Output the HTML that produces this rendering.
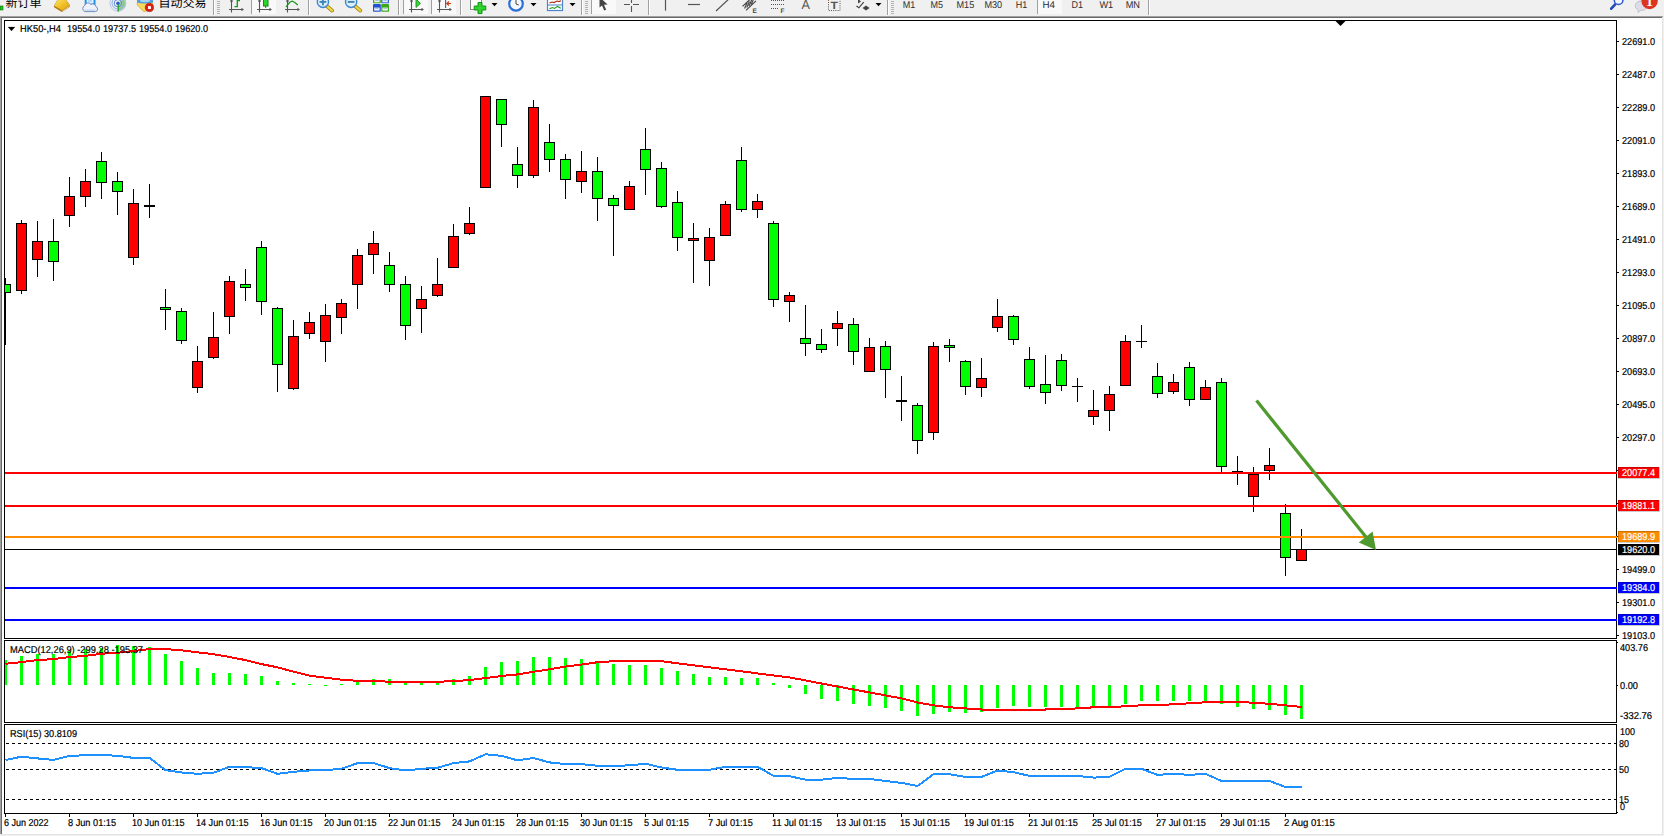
<!DOCTYPE html>
<html lang="zh"><head><meta charset="utf-8"><title>HK50-,H4</title>
<style>html,body{margin:0;padding:0;background:#f0f0f0;overflow:hidden}svg{display:block}text{font-family:"Liberation Sans","Noto Sans CJK SC",sans-serif;text-rendering:geometricPrecision}.ax{font-size:10px;fill:#000;stroke:#000;stroke-width:0.2px}.tf{font-size:9.9px;fill:#2e2e2e}.cj{font-size:12px;fill:#000}</style></head><body>
<svg width="1664" height="836" viewBox="0 0 1664 836">
<rect x="0" y="0" width="1664" height="836" fill="#f0f0f0"/>
<g shape-rendering="crispEdges">
<rect x="0" y="16" width="1663" height="820" fill="#a0a0a0"/>
<rect x="1" y="17" width="1662" height="818" fill="#696969"/>
<rect x="1662" y="16" width="2" height="820" fill="#f0f0f0"/>
<rect x="0" y="834" width="1664" height="2" fill="#f0f0f0"/>
<rect x="1" y="17" width="1662" height="818" fill="#e3e3e3"/>
<rect x="1" y="17" width="1661" height="817" fill="#696969"/>
<rect x="2" y="18" width="1660" height="816" fill="#ffffff"/>
<rect x="4.5" y="20.5" width="1612" height="618" fill="none" stroke="#000" stroke-width="1"/>
<rect x="4.5" y="640.5" width="1612" height="82" fill="none" stroke="#000" stroke-width="1"/>
<rect x="4.5" y="724.5" width="1612" height="89" fill="none" stroke="#000" stroke-width="1"/>
</g>
<defs><clipPath id="cm"><rect x="5" y="21" width="1611" height="617"/></clipPath><clipPath id="c2"><rect x="5" y="641" width="1611" height="81"/></clipPath><clipPath id="c3"><rect x="5" y="725" width="1611" height="88"/></clipPath></defs>
<g shape-rendering="crispEdges">
<rect x="5" y="549" width="1611" height="1" fill="#000"/>
</g>
<g shape-rendering="crispEdges" clip-path="url(#cm)" fill="#000">
<rect x="5" y="278" width="1" height="67"/><rect x="0" y="284" width="11" height="9"/><rect x="1" y="285" width="9" height="7" fill="#00ff00"/><rect x="21" y="220" width="1" height="74"/><rect x="16" y="223" width="11" height="68"/><rect x="17" y="224" width="9" height="66" fill="#ff0000"/><rect x="37" y="221" width="1" height="56"/><rect x="32" y="241" width="11" height="19"/><rect x="33" y="242" width="9" height="17" fill="#ff0000"/><rect x="53" y="219" width="1" height="62"/><rect x="48" y="241" width="11" height="21"/><rect x="49" y="242" width="9" height="19" fill="#00ff00"/><rect x="69" y="177" width="1" height="50"/><rect x="64" y="196" width="11" height="20"/><rect x="65" y="197" width="9" height="18" fill="#ff0000"/><rect x="85" y="169" width="1" height="38"/><rect x="80" y="181" width="11" height="16"/><rect x="81" y="182" width="9" height="14" fill="#ff0000"/><rect x="101" y="152" width="1" height="47"/><rect x="96" y="161" width="11" height="22"/><rect x="97" y="162" width="9" height="20" fill="#00ff00"/><rect x="117" y="172" width="1" height="43"/><rect x="112" y="181" width="11" height="11"/><rect x="113" y="182" width="9" height="9" fill="#00ff00"/><rect x="133" y="189" width="1" height="76"/><rect x="128" y="203" width="11" height="55"/><rect x="129" y="204" width="9" height="53" fill="#ff0000"/><rect x="149" y="184" width="1" height="34"/><rect x="144" y="205" width="11" height="2"/><rect x="165" y="289" width="1" height="41"/><rect x="160" y="307" width="11" height="3"/><rect x="161" y="308" width="9" height="1" fill="#00ff00"/><rect x="181" y="308" width="1" height="36"/><rect x="176" y="311" width="11" height="30"/><rect x="177" y="312" width="9" height="28" fill="#00ff00"/><rect x="197" y="346" width="1" height="47"/><rect x="192" y="361" width="11" height="27"/><rect x="193" y="362" width="9" height="25" fill="#ff0000"/><rect x="213" y="312" width="1" height="47"/><rect x="208" y="337" width="11" height="21"/><rect x="209" y="338" width="9" height="19" fill="#ff0000"/><rect x="229" y="276" width="1" height="58"/><rect x="224" y="281" width="11" height="36"/><rect x="225" y="282" width="9" height="34" fill="#ff0000"/><rect x="245" y="269" width="1" height="32"/><rect x="240" y="284" width="11" height="4"/><rect x="241" y="285" width="9" height="2" fill="#00ff00"/><rect x="261" y="241" width="1" height="74"/><rect x="256" y="247" width="11" height="55"/><rect x="257" y="248" width="9" height="53" fill="#00ff00"/><rect x="277" y="307" width="1" height="85"/><rect x="272" y="308" width="11" height="57"/><rect x="273" y="309" width="9" height="55" fill="#00ff00"/><rect x="293" y="320" width="1" height="70"/><rect x="288" y="336" width="11" height="53"/><rect x="289" y="337" width="9" height="51" fill="#ff0000"/><rect x="309" y="312" width="1" height="27"/><rect x="304" y="322" width="11" height="12"/><rect x="305" y="323" width="9" height="10" fill="#ff0000"/><rect x="325" y="304" width="1" height="58"/><rect x="320" y="315" width="11" height="27"/><rect x="321" y="316" width="9" height="25" fill="#ff0000"/><rect x="341" y="299" width="1" height="35"/><rect x="336" y="303" width="11" height="15"/><rect x="337" y="304" width="9" height="13" fill="#ff0000"/><rect x="357" y="249" width="1" height="60"/><rect x="352" y="255" width="11" height="30"/><rect x="353" y="256" width="9" height="28" fill="#ff0000"/><rect x="373" y="231" width="1" height="43"/><rect x="368" y="243" width="11" height="12"/><rect x="369" y="244" width="9" height="10" fill="#ff0000"/><rect x="389" y="252" width="1" height="40"/><rect x="384" y="265" width="11" height="20"/><rect x="385" y="266" width="9" height="18" fill="#00ff00"/><rect x="405" y="276" width="1" height="64"/><rect x="400" y="284" width="11" height="42"/><rect x="401" y="285" width="9" height="40" fill="#00ff00"/><rect x="421" y="286" width="1" height="47"/><rect x="416" y="299" width="11" height="10"/><rect x="417" y="300" width="9" height="8" fill="#ff0000"/><rect x="437" y="258" width="1" height="39"/><rect x="432" y="284" width="11" height="12"/><rect x="433" y="285" width="9" height="10" fill="#ff0000"/><rect x="453" y="224" width="1" height="44"/><rect x="448" y="236" width="11" height="32"/><rect x="449" y="237" width="9" height="30" fill="#ff0000"/><rect x="469" y="207" width="1" height="28"/><rect x="464" y="223" width="11" height="11"/><rect x="465" y="224" width="9" height="9" fill="#ff0000"/><rect x="485" y="96" width="1" height="92"/><rect x="480" y="96" width="11" height="92"/><rect x="481" y="97" width="9" height="90" fill="#ff0000"/><rect x="501" y="99" width="1" height="48"/><rect x="496" y="99" width="11" height="26"/><rect x="497" y="100" width="9" height="24" fill="#00ff00"/><rect x="517" y="147" width="1" height="41"/><rect x="512" y="164" width="11" height="12"/><rect x="513" y="165" width="9" height="10" fill="#00ff00"/><rect x="533" y="100" width="1" height="78"/><rect x="528" y="107" width="11" height="69"/><rect x="529" y="108" width="9" height="67" fill="#ff0000"/><rect x="549" y="124" width="1" height="48"/><rect x="544" y="142" width="11" height="18"/><rect x="545" y="143" width="9" height="16" fill="#00ff00"/><rect x="565" y="154" width="1" height="45"/><rect x="560" y="159" width="11" height="21"/><rect x="561" y="160" width="9" height="19" fill="#00ff00"/><rect x="581" y="151" width="1" height="42"/><rect x="576" y="171" width="11" height="11"/><rect x="577" y="172" width="9" height="9" fill="#ff0000"/><rect x="597" y="157" width="1" height="64"/><rect x="592" y="171" width="11" height="28"/><rect x="593" y="172" width="9" height="26" fill="#00ff00"/><rect x="613" y="195" width="1" height="61"/><rect x="608" y="198" width="11" height="8"/><rect x="609" y="199" width="9" height="6" fill="#00ff00"/><rect x="629" y="181" width="1" height="29"/><rect x="624" y="186" width="11" height="24"/><rect x="625" y="187" width="9" height="22" fill="#ff0000"/><rect x="645" y="128" width="1" height="67"/><rect x="640" y="149" width="11" height="21"/><rect x="641" y="150" width="9" height="19" fill="#00ff00"/><rect x="661" y="162" width="1" height="46"/><rect x="656" y="168" width="11" height="39"/><rect x="657" y="169" width="9" height="37" fill="#00ff00"/><rect x="677" y="191" width="1" height="60"/><rect x="672" y="202" width="11" height="36"/><rect x="673" y="203" width="9" height="34" fill="#00ff00"/><rect x="693" y="223" width="1" height="60"/><rect x="688" y="238" width="11" height="3"/><rect x="689" y="239" width="9" height="1" fill="#ff0000"/><rect x="709" y="228" width="1" height="58"/><rect x="704" y="237" width="11" height="24"/><rect x="705" y="238" width="9" height="22" fill="#ff0000"/><rect x="725" y="201" width="1" height="35"/><rect x="720" y="204" width="11" height="32"/><rect x="721" y="205" width="9" height="30" fill="#ff0000"/><rect x="741" y="147" width="1" height="65"/><rect x="736" y="160" width="11" height="50"/><rect x="737" y="161" width="9" height="48" fill="#00ff00"/><rect x="757" y="194" width="1" height="24"/><rect x="752" y="201" width="11" height="9"/><rect x="753" y="202" width="9" height="7" fill="#ff0000"/><rect x="773" y="221" width="1" height="86"/><rect x="768" y="223" width="11" height="77"/><rect x="769" y="224" width="9" height="75" fill="#00ff00"/><rect x="789" y="292" width="1" height="30"/><rect x="784" y="295" width="11" height="7"/><rect x="785" y="296" width="9" height="5" fill="#ff0000"/><rect x="805" y="305" width="1" height="51"/><rect x="800" y="338" width="11" height="6"/><rect x="801" y="339" width="9" height="4" fill="#00ff00"/><rect x="821" y="329" width="1" height="24"/><rect x="816" y="344" width="11" height="6"/><rect x="817" y="345" width="9" height="4" fill="#00ff00"/><rect x="837" y="311" width="1" height="35"/><rect x="832" y="323" width="11" height="6"/><rect x="833" y="324" width="9" height="4" fill="#ff0000"/><rect x="853" y="318" width="1" height="47"/><rect x="848" y="324" width="11" height="28"/><rect x="849" y="325" width="9" height="26" fill="#00ff00"/><rect x="869" y="338" width="1" height="34"/><rect x="864" y="347" width="11" height="25"/><rect x="865" y="348" width="9" height="23" fill="#ff0000"/><rect x="885" y="341" width="1" height="57"/><rect x="880" y="346" width="11" height="24"/><rect x="881" y="347" width="9" height="22" fill="#00ff00"/><rect x="901" y="376" width="1" height="45"/><rect x="896" y="400" width="11" height="2"/><rect x="917" y="403" width="1" height="51"/><rect x="912" y="405" width="11" height="36"/><rect x="913" y="406" width="9" height="34" fill="#00ff00"/><rect x="933" y="342" width="1" height="98"/><rect x="928" y="346" width="11" height="87"/><rect x="929" y="347" width="9" height="85" fill="#ff0000"/><rect x="949" y="339" width="1" height="23"/><rect x="944" y="345" width="11" height="3"/><rect x="945" y="346" width="9" height="1" fill="#00ff00"/><rect x="965" y="360" width="1" height="35"/><rect x="960" y="361" width="11" height="26"/><rect x="961" y="362" width="9" height="24" fill="#00ff00"/><rect x="981" y="358" width="1" height="39"/><rect x="976" y="378" width="11" height="10"/><rect x="977" y="379" width="9" height="8" fill="#ff0000"/><rect x="997" y="299" width="1" height="33"/><rect x="992" y="316" width="11" height="12"/><rect x="993" y="317" width="9" height="10" fill="#ff0000"/><rect x="1013" y="315" width="1" height="30"/><rect x="1008" y="316" width="11" height="24"/><rect x="1009" y="317" width="9" height="22" fill="#00ff00"/><rect x="1029" y="347" width="1" height="42"/><rect x="1024" y="359" width="11" height="28"/><rect x="1025" y="360" width="9" height="26" fill="#00ff00"/><rect x="1045" y="355" width="1" height="49"/><rect x="1040" y="384" width="11" height="9"/><rect x="1041" y="385" width="9" height="7" fill="#00ff00"/><rect x="1061" y="354" width="1" height="37"/><rect x="1056" y="360" width="11" height="26"/><rect x="1057" y="361" width="9" height="24" fill="#00ff00"/><rect x="1077" y="378" width="1" height="24"/><rect x="1072" y="386" width="11" height="1"/><rect x="1093" y="390" width="1" height="35"/><rect x="1088" y="410" width="11" height="7"/><rect x="1089" y="411" width="9" height="5" fill="#ff0000"/><rect x="1109" y="386" width="1" height="45"/><rect x="1104" y="394" width="11" height="17"/><rect x="1105" y="395" width="9" height="15" fill="#ff0000"/><rect x="1125" y="335" width="1" height="51"/><rect x="1120" y="341" width="11" height="45"/><rect x="1121" y="342" width="9" height="43" fill="#ff0000"/><rect x="1141" y="325" width="1" height="23"/><rect x="1136" y="341" width="11" height="1"/><rect x="1157" y="363" width="1" height="35"/><rect x="1152" y="376" width="11" height="18"/><rect x="1153" y="377" width="9" height="16" fill="#00ff00"/><rect x="1173" y="374" width="1" height="20"/><rect x="1168" y="382" width="11" height="10"/><rect x="1169" y="383" width="9" height="8" fill="#ff0000"/><rect x="1189" y="362" width="1" height="44"/><rect x="1184" y="367" width="11" height="33"/><rect x="1185" y="368" width="9" height="31" fill="#00ff00"/><rect x="1205" y="380" width="1" height="20"/><rect x="1200" y="387" width="11" height="13"/><rect x="1201" y="388" width="9" height="11" fill="#ff0000"/><rect x="1221" y="378" width="1" height="94"/><rect x="1216" y="382" width="11" height="85"/><rect x="1217" y="383" width="9" height="83" fill="#00ff00"/><rect x="1237" y="456" width="1" height="29"/><rect x="1232" y="471" width="11" height="1"/><rect x="1253" y="467" width="1" height="45"/><rect x="1248" y="474" width="11" height="23"/><rect x="1249" y="475" width="9" height="21" fill="#ff0000"/><rect x="1269" y="448" width="1" height="32"/><rect x="1264" y="465" width="11" height="6"/><rect x="1265" y="466" width="9" height="4" fill="#ff0000"/><rect x="1285" y="504" width="1" height="72"/><rect x="1280" y="513" width="11" height="45"/><rect x="1281" y="514" width="9" height="43" fill="#00ff00"/><rect x="1301" y="529" width="1" height="32"/><rect x="1296" y="549" width="11" height="12"/><rect x="1297" y="550" width="9" height="10" fill="#ff0000"/>
</g>
<g shape-rendering="crispEdges">
<rect x="5" y="472" width="1612" height="2" fill="#ff0000"/>
<rect x="5" y="505" width="1612" height="2" fill="#ff0000"/>
<rect x="5" y="536" width="1612" height="2" fill="#ff8c00"/>
<rect x="5" y="587" width="1612" height="2" fill="#0000ff"/>
<rect x="5" y="619" width="1612" height="2" fill="#0000ff"/>
</g>
<polygon points="1335.5,21 1345.5,21 1340.5,26" fill="#000"/>
<g><line x1="1256.5" y1="400.5" x2="1366" y2="537" stroke="#4e9a2e" stroke-width="3.2"/><polygon points="1376,550 1372.6,531.4 1358.8,542.5" fill="#4e9a2e"/></g>
<g shape-rendering="crispEdges" clip-path="url(#c2)" fill="#00ff00">
<rect x="4" y="660" width="3" height="25"/><rect x="20" y="656" width="3" height="29"/><rect x="36" y="654" width="3" height="31"/><rect x="52" y="654" width="3" height="31"/><rect x="68" y="651" width="3" height="34"/><rect x="84" y="649" width="3" height="36"/><rect x="100" y="648" width="3" height="37"/><rect x="116" y="645" width="3" height="40"/><rect x="132" y="646" width="3" height="39"/><rect x="148" y="647" width="3" height="38"/><rect x="164" y="654" width="3" height="31"/><rect x="180" y="661" width="3" height="24"/><rect x="196" y="668" width="3" height="17"/><rect x="212" y="673" width="3" height="12"/><rect x="228" y="673" width="3" height="12"/><rect x="244" y="674" width="3" height="11"/><rect x="260" y="676" width="3" height="9"/><rect x="276" y="681" width="3" height="4"/><rect x="292" y="683" width="3" height="2"/><rect x="308" y="684" width="3" height="1"/><rect x="324" y="685" width="3" height="1"/><rect x="340" y="684" width="3" height="1"/><rect x="356" y="681" width="3" height="4"/><rect x="372" y="679" width="3" height="6"/><rect x="388" y="679" width="3" height="6"/><rect x="404" y="682" width="3" height="3"/><rect x="420" y="682" width="3" height="3"/><rect x="436" y="682" width="3" height="3"/><rect x="452" y="679" width="3" height="6"/><rect x="468" y="676" width="3" height="9"/><rect x="484" y="667" width="3" height="18"/><rect x="500" y="662" width="3" height="23"/><rect x="516" y="661" width="3" height="24"/><rect x="532" y="657" width="3" height="28"/><rect x="548" y="657" width="3" height="28"/><rect x="564" y="658" width="3" height="27"/><rect x="580" y="659" width="3" height="26"/><rect x="596" y="661" width="3" height="24"/><rect x="612" y="664" width="3" height="21"/><rect x="628" y="665" width="3" height="20"/><rect x="644" y="665" width="3" height="20"/><rect x="660" y="668" width="3" height="17"/><rect x="676" y="671" width="3" height="14"/><rect x="692" y="674" width="3" height="11"/><rect x="708" y="677" width="3" height="8"/><rect x="724" y="677" width="3" height="8"/><rect x="740" y="678" width="3" height="7"/><rect x="756" y="678" width="3" height="7"/><rect x="772" y="683" width="3" height="2"/><rect x="788" y="685" width="3" height="3"/><rect x="804" y="685" width="3" height="9"/><rect x="820" y="685" width="3" height="14"/><rect x="836" y="685" width="3" height="16"/><rect x="852" y="685" width="3" height="19"/><rect x="868" y="685" width="3" height="21"/><rect x="884" y="685" width="3" height="23"/><rect x="900" y="685" width="3" height="26"/><rect x="916" y="685" width="3" height="31"/><rect x="932" y="685" width="3" height="29"/><rect x="948" y="685" width="3" height="27"/><rect x="964" y="685" width="3" height="28"/><rect x="980" y="685" width="3" height="27"/><rect x="996" y="685" width="3" height="23"/><rect x="1012" y="685" width="3" height="21"/><rect x="1028" y="685" width="3" height="22"/><rect x="1044" y="685" width="3" height="22"/><rect x="1060" y="685" width="3" height="22"/><rect x="1076" y="685" width="3" height="22"/><rect x="1092" y="685" width="3" height="22"/><rect x="1108" y="685" width="3" height="21"/><rect x="1124" y="685" width="3" height="19"/><rect x="1140" y="685" width="3" height="16"/><rect x="1156" y="685" width="3" height="16"/><rect x="1172" y="685" width="3" height="16"/><rect x="1188" y="685" width="3" height="16"/><rect x="1204" y="685" width="3" height="16"/><rect x="1220" y="685" width="3" height="19"/><rect x="1236" y="685" width="3" height="22"/><rect x="1252" y="685" width="3" height="24"/><rect x="1268" y="685" width="3" height="25"/><rect x="1284" y="685" width="3" height="30"/><rect x="1300" y="685" width="3" height="34"/>
<polyline points="5.5,663.8 21.5,662.1 37.5,660.1 53.5,659.1 69.5,657.0 85.5,655.9 101.5,653.7 117.5,652.8 133.5,651.1 149.5,649.1 165.5,649.1 181.5,650.3 197.5,652.3 213.5,654.2 229.5,657.0 245.5,660.1 261.5,664.1 277.5,667.3 293.5,671.7 309.5,675.7 325.5,677.7 341.5,679.7 357.5,680.8 373.5,680.8 389.5,681.8 405.5,681.8 421.5,681.8 437.5,681.8 453.5,681.1 469.5,680.1 485.5,678.1 501.5,676.0 517.5,674.4 533.5,671.8 549.5,669.3 565.5,666.6 581.5,664.6 597.5,662.2 613.5,661.2 629.5,661.2 645.5,661.2 661.5,661.2 677.5,663.3 693.5,665.3 709.5,667.3 725.5,669.3 741.5,671.3 757.5,673.4 773.5,675.4 789.5,677.4 805.5,680.4 821.5,683.5 837.5,686.5 853.5,689.5 869.5,692.4 885.5,695.4 901.5,698.4 917.5,702.5 933.5,705.3 949.5,707.3 965.5,708.4 981.5,709.5 997.5,709.5 1013.5,709.5 1029.5,709.5 1045.5,709.5 1061.5,709.0 1077.5,708.4 1093.5,707.3 1109.5,707.0 1125.5,706.3 1141.5,705.3 1157.5,705.0 1173.5,704.3 1189.5,703.3 1205.5,702.3 1221.5,701.8 1237.5,701.8 1253.5,702.8 1269.5,703.8 1285.5,705.3 1301.5,707.0 1302,707" fill="none" stroke="#ff0000" stroke-width="2"/>
</g>
<g shape-rendering="crispEdges" clip-path="url(#c3)">
<line x1="5" y1="743.5" x2="1616" y2="743.5" stroke="#000" stroke-width="1" stroke-dasharray="3 3" stroke-dashoffset="5"/>
<line x1="5" y1="769.5" x2="1616" y2="769.5" stroke="#000" stroke-width="1" stroke-dasharray="3 3" stroke-dashoffset="5"/>
<line x1="5" y1="799.5" x2="1616" y2="799.5" stroke="#000" stroke-width="1" stroke-dasharray="3 3" stroke-dashoffset="5"/>
<polyline points="5.5,760.0 21.5,756.7 37.5,758.4 53.5,760.0 69.5,755.8 85.5,755.3 101.5,755.0 117.5,755.8 133.5,757.9 149.5,757.9 165.5,770.1 181.5,772.5 197.5,773.8 213.5,772.8 229.5,766.8 245.5,767.1 261.5,768.1 277.5,773.8 293.5,771.8 309.5,770.5 325.5,770.1 341.5,768.8 357.5,763.1 373.5,763.1 389.5,768.1 405.5,770.5 421.5,768.8 437.5,767.8 453.5,763.1 469.5,761.4 485.5,754.3 501.5,755.8 517.5,760.4 533.5,758.0 549.5,762.4 565.5,764.1 581.5,764.1 597.5,765.8 613.5,765.8 629.5,765.4 645.5,763.7 661.5,767.5 677.5,769.8 693.5,769.8 709.5,769.8 725.5,766.8 741.5,766.8 757.5,766.8 773.5,775.9 789.5,776.2 805.5,779.7 821.5,779.7 837.5,777.9 853.5,778.9 869.5,778.9 885.5,780.9 901.5,782.9 917.5,786.0 933.5,774.2 949.5,774.2 965.5,776.9 981.5,776.9 997.5,770.5 1013.5,772.2 1029.5,775.9 1045.5,775.9 1061.5,775.9 1077.5,775.9 1093.5,777.6 1109.5,776.9 1125.5,768.8 1141.5,768.8 1157.5,774.9 1173.5,773.8 1189.5,774.9 1205.5,773.8 1221.5,781.0 1237.5,781.0 1253.5,781.0 1269.5,781.0 1285.5,787.0 1301.5,787.0 1302,787" fill="none" stroke="#1e90ff" stroke-width="2"/>
</g>
<g shape-rendering="crispEdges" fill="#000">
<rect x="1617" y="41" width="2" height="1"/>
<rect x="1617" y="74" width="2" height="1"/>
<rect x="1617" y="107" width="2" height="1"/>
<rect x="1617" y="140" width="2" height="1"/>
<rect x="1617" y="173" width="2" height="1"/>
<rect x="1617" y="206" width="2" height="1"/>
<rect x="1617" y="239" width="2" height="1"/>
<rect x="1617" y="272" width="2" height="1"/>
<rect x="1617" y="305" width="2" height="1"/>
<rect x="1617" y="338" width="2" height="1"/>
<rect x="1617" y="371" width="2" height="1"/>
<rect x="1617" y="404" width="2" height="1"/>
<rect x="1617" y="437" width="2" height="1"/>
<rect x="1617" y="470" width="2" height="1"/>
<rect x="1617" y="503" width="2" height="1"/>
<rect x="1617" y="536" width="2" height="1"/>
<rect x="1617" y="569" width="2" height="1"/>
<rect x="1617" y="602" width="2" height="1"/>
<rect x="1617" y="635" width="2" height="1"/>
<rect x="1617" y="642" width="1" height="1"/>
<rect x="1617" y="685" width="1" height="1"/>
<rect x="1617" y="812" width="1" height="1"/>
<rect x="5" y="814" width="1" height="3"/>
<rect x="69" y="814" width="1" height="3"/>
<rect x="133" y="814" width="1" height="3"/>
<rect x="197" y="814" width="1" height="3"/>
<rect x="261" y="814" width="1" height="3"/>
<rect x="325" y="814" width="1" height="3"/>
<rect x="389" y="814" width="1" height="3"/>
<rect x="453" y="814" width="1" height="3"/>
<rect x="517" y="814" width="1" height="3"/>
<rect x="581" y="814" width="1" height="3"/>
<rect x="645" y="814" width="1" height="3"/>
<rect x="709" y="814" width="1" height="3"/>
<rect x="773" y="814" width="1" height="3"/>
<rect x="837" y="814" width="1" height="3"/>
<rect x="901" y="814" width="1" height="3"/>
<rect x="965" y="814" width="1" height="3"/>
<rect x="1029" y="814" width="1" height="3"/>
<rect x="1093" y="814" width="1" height="3"/>
<rect x="1157" y="814" width="1" height="3"/>
<rect x="1221" y="814" width="1" height="3"/>
<rect x="1285" y="814" width="1" height="3"/>
</g>
<g class="ax">
<text x="1622" y="45" textLength="33" lengthAdjust="spacingAndGlyphs">22691.0</text>
<text x="1622" y="78" textLength="33" lengthAdjust="spacingAndGlyphs">22487.0</text>
<text x="1622" y="111" textLength="33" lengthAdjust="spacingAndGlyphs">22289.0</text>
<text x="1622" y="144" textLength="33" lengthAdjust="spacingAndGlyphs">22091.0</text>
<text x="1622" y="177" textLength="33" lengthAdjust="spacingAndGlyphs">21893.0</text>
<text x="1622" y="210" textLength="33" lengthAdjust="spacingAndGlyphs">21689.0</text>
<text x="1622" y="243" textLength="33" lengthAdjust="spacingAndGlyphs">21491.0</text>
<text x="1622" y="276" textLength="33" lengthAdjust="spacingAndGlyphs">21293.0</text>
<text x="1622" y="309" textLength="33" lengthAdjust="spacingAndGlyphs">21095.0</text>
<text x="1622" y="342" textLength="33" lengthAdjust="spacingAndGlyphs">20897.0</text>
<text x="1622" y="375" textLength="33" lengthAdjust="spacingAndGlyphs">20693.0</text>
<text x="1622" y="408" textLength="33" lengthAdjust="spacingAndGlyphs">20495.0</text>
<text x="1622" y="441" textLength="33" lengthAdjust="spacingAndGlyphs">20297.0</text>
<text x="1622" y="573" textLength="33" lengthAdjust="spacingAndGlyphs">19499.0</text>
<text x="1622" y="606" textLength="33" lengthAdjust="spacingAndGlyphs">19301.0</text>
<text x="1622" y="639" textLength="33" lengthAdjust="spacingAndGlyphs">19103.0</text>
<rect x="1618" y="467" width="41" height="11" fill="#ff0000" shape-rendering="crispEdges"/>
<text x="1622" y="476" style="fill:#fff;stroke:#fff" textLength="33" lengthAdjust="spacingAndGlyphs">20077.4</text>
<rect x="1618" y="500" width="41" height="11" fill="#ff0000" shape-rendering="crispEdges"/>
<text x="1622" y="509" style="fill:#fff;stroke:#fff" textLength="33" lengthAdjust="spacingAndGlyphs">19881.1</text>
<rect x="1618" y="531" width="41" height="11" fill="#ff8c00" shape-rendering="crispEdges"/>
<text x="1622" y="540" style="fill:#fff;stroke:#fff" textLength="33" lengthAdjust="spacingAndGlyphs">19689.9</text>
<rect x="1618" y="544" width="41" height="11" fill="#000000" shape-rendering="crispEdges"/>
<text x="1622" y="553" style="fill:#fff;stroke:#fff" textLength="33" lengthAdjust="spacingAndGlyphs">19620.0</text>
<rect x="1618" y="582" width="41" height="11" fill="#0000ff" shape-rendering="crispEdges"/>
<text x="1622" y="591" style="fill:#fff;stroke:#fff" textLength="33" lengthAdjust="spacingAndGlyphs">19384.0</text>
<rect x="1618" y="614" width="41" height="11" fill="#0000ff" shape-rendering="crispEdges"/>
<text x="1622" y="623" style="fill:#fff;stroke:#fff" textLength="33" lengthAdjust="spacingAndGlyphs">19192.8</text>
<text x="1620" y="651" textLength="28" lengthAdjust="spacingAndGlyphs">403.76</text>
<text x="1620" y="689" textLength="18" lengthAdjust="spacingAndGlyphs">0.00</text>
<text x="1620" y="719" textLength="32" lengthAdjust="spacingAndGlyphs">-332.76</text>
<text x="1620" y="735" textLength="15" lengthAdjust="spacingAndGlyphs">100</text>
<text x="1619" y="747" textLength="10" lengthAdjust="spacingAndGlyphs">80</text>
<text x="1619" y="773" textLength="10" lengthAdjust="spacingAndGlyphs">50</text>
<text x="1619" y="803" textLength="10" lengthAdjust="spacingAndGlyphs">15</text>
<text x="1620" y="810" textLength="5" lengthAdjust="spacingAndGlyphs">0</text>
<text x="4" y="826" textLength="44.6" lengthAdjust="spacingAndGlyphs">6 Jun 2022</text>
<text x="68" y="826" textLength="48" lengthAdjust="spacingAndGlyphs">8 Jun 01:15</text>
<text x="132" y="826" textLength="52.5" lengthAdjust="spacingAndGlyphs">10 Jun 01:15</text>
<text x="196" y="826" textLength="52.5" lengthAdjust="spacingAndGlyphs">14 Jun 01:15</text>
<text x="260" y="826" textLength="52.5" lengthAdjust="spacingAndGlyphs">16 Jun 01:15</text>
<text x="324" y="826" textLength="52.5" lengthAdjust="spacingAndGlyphs">20 Jun 01:15</text>
<text x="388" y="826" textLength="52.5" lengthAdjust="spacingAndGlyphs">22 Jun 01:15</text>
<text x="452" y="826" textLength="52.5" lengthAdjust="spacingAndGlyphs">24 Jun 01:15</text>
<text x="516" y="826" textLength="52.5" lengthAdjust="spacingAndGlyphs">28 Jun 01:15</text>
<text x="580" y="826" textLength="52.5" lengthAdjust="spacingAndGlyphs">30 Jun 01:15</text>
<text x="644" y="826" textLength="44.8" lengthAdjust="spacingAndGlyphs">5 Jul 01:15</text>
<text x="708" y="826" textLength="44.8" lengthAdjust="spacingAndGlyphs">7 Jul 01:15</text>
<text x="772" y="826" textLength="49.9" lengthAdjust="spacingAndGlyphs">11 Jul 01:15</text>
<text x="836" y="826" textLength="49.9" lengthAdjust="spacingAndGlyphs">13 Jul 01:15</text>
<text x="900" y="826" textLength="49.9" lengthAdjust="spacingAndGlyphs">15 Jul 01:15</text>
<text x="964" y="826" textLength="49.9" lengthAdjust="spacingAndGlyphs">19 Jul 01:15</text>
<text x="1028" y="826" textLength="49.9" lengthAdjust="spacingAndGlyphs">21 Jul 01:15</text>
<text x="1092" y="826" textLength="49.9" lengthAdjust="spacingAndGlyphs">25 Jul 01:15</text>
<text x="1156" y="826" textLength="49.9" lengthAdjust="spacingAndGlyphs">27 Jul 01:15</text>
<text x="1220" y="826" textLength="49.9" lengthAdjust="spacingAndGlyphs">29 Jul 01:15</text>
<text x="1284" y="826" textLength="50.8" lengthAdjust="spacingAndGlyphs">2 Aug 01:15</text>
<polygon points="8,27 15,27 11.5,31" fill="#000"/>
<text y="32"><tspan x="20" textLength="41" lengthAdjust="spacingAndGlyphs">HK50-,H4</tspan> <tspan x="67" textLength="33" lengthAdjust="spacingAndGlyphs">19554.0</tspan> <tspan x="103" textLength="33" lengthAdjust="spacingAndGlyphs">19737.5</tspan> <tspan x="139" textLength="33" lengthAdjust="spacingAndGlyphs">19554.0</tspan> <tspan x="175" textLength="33" lengthAdjust="spacingAndGlyphs">19620.0</tspan></text>
<text x="10" y="653" textLength="133" lengthAdjust="spacingAndGlyphs">MACD(12,26,9) -299.28 -195.37</text>
<text x="10" y="737" textLength="67" lengthAdjust="spacingAndGlyphs">RSI(15) 30.8109</text>
</g>
<g id="toolbar">
<g shape-rendering="crispEdges">
<rect x="252" y="0" width="24" height="14" fill="#f9f9f9"/>
<rect x="251" y="0" width="1" height="14" fill="#a0a0a0"/>
<rect x="404" y="0" width="24" height="14" fill="#f9f9f9"/>
<rect x="403" y="0" width="1" height="14" fill="#a0a0a0"/>
<rect x="432" y="0" width="24" height="14" fill="#f9f9f9"/>
<rect x="431" y="0" width="1" height="14" fill="#a0a0a0"/>
<rect x="592" y="0" width="24" height="14" fill="#f9f9f9"/>
<rect x="591" y="0" width="1" height="14" fill="#a0a0a0"/>
<rect x="1038" y="0" width="24" height="14" fill="#f9f9f9"/>
<rect x="1037" y="0" width="1" height="14" fill="#a0a0a0"/>
<rect x="213" y="0" width="1" height="15" fill="#a0a0a0"/><rect x="214" y="0" width="1" height="15" fill="#ffffff"/>
<rect x="308" y="0" width="1" height="15" fill="#a0a0a0"/><rect x="309" y="0" width="1" height="15" fill="#ffffff"/>
<rect x="398" y="0" width="1" height="15" fill="#a0a0a0"/><rect x="399" y="0" width="1" height="15" fill="#ffffff"/>
<rect x="460" y="0" width="1" height="15" fill="#a0a0a0"/><rect x="461" y="0" width="1" height="15" fill="#ffffff"/>
<rect x="581" y="0" width="1" height="15" fill="#a0a0a0"/><rect x="582" y="0" width="1" height="15" fill="#ffffff"/>
<rect x="648" y="0" width="1" height="15" fill="#a0a0a0"/><rect x="649" y="0" width="1" height="15" fill="#ffffff"/>
<rect x="887" y="0" width="1" height="15" fill="#a0a0a0"/><rect x="888" y="0" width="1" height="15" fill="#ffffff"/>
<rect x="1148" y="0" width="1" height="15" fill="#a0a0a0"/><rect x="1149" y="0" width="1" height="15" fill="#ffffff"/>
<rect x="591" y="0" width="1" height="14" fill="#a0a0a0"/>
<rect x="217" y="1" width="3" height="1" fill="#b4b4b4"/>
<rect x="217" y="3" width="3" height="1" fill="#b4b4b4"/>
<rect x="217" y="5" width="3" height="1" fill="#b4b4b4"/>
<rect x="217" y="7" width="3" height="1" fill="#b4b4b4"/>
<rect x="217" y="9" width="3" height="1" fill="#b4b4b4"/>
<rect x="217" y="11" width="3" height="1" fill="#b4b4b4"/>
<rect x="217" y="13" width="3" height="1" fill="#b4b4b4"/>
<rect x="585" y="1" width="3" height="1" fill="#b4b4b4"/>
<rect x="585" y="3" width="3" height="1" fill="#b4b4b4"/>
<rect x="585" y="5" width="3" height="1" fill="#b4b4b4"/>
<rect x="585" y="7" width="3" height="1" fill="#b4b4b4"/>
<rect x="585" y="9" width="3" height="1" fill="#b4b4b4"/>
<rect x="585" y="11" width="3" height="1" fill="#b4b4b4"/>
<rect x="585" y="13" width="3" height="1" fill="#b4b4b4"/>
<rect x="891" y="1" width="3" height="1" fill="#b4b4b4"/>
<rect x="891" y="3" width="3" height="1" fill="#b4b4b4"/>
<rect x="891" y="5" width="3" height="1" fill="#b4b4b4"/>
<rect x="891" y="7" width="3" height="1" fill="#b4b4b4"/>
<rect x="891" y="9" width="3" height="1" fill="#b4b4b4"/>
<rect x="891" y="11" width="3" height="1" fill="#b4b4b4"/>
<rect x="891" y="13" width="3" height="1" fill="#b4b4b4"/>
</g>
<rect x="0" y="6" width="3" height="4" fill="#22c022" stroke="#0a7a0a" stroke-width="0.6"/>
<text class="cj" x="5.5" y="7.4">新订单</text>
<defs><linearGradient id="gd" x1="0" y1="0" x2="1" y2="1"><stop offset="0" stop-color="#ffe566"/><stop offset="0.6" stop-color="#eebb22"/><stop offset="1" stop-color="#d9a318"/></linearGradient></defs>
<polygon points="54,5.8 58,-1 65.4,-1 70,5.3 70,6.8 61.8,12 54,7.2" fill="#b07a14"/>
<polygon points="54.3,5.7 58.2,-1 65.2,-1 69.6,5.2 62,10.2" fill="url(#gd)"/>
<path d="M62.2,10.9 L69.8,6" stroke="#f3dc8c" stroke-width="0.8"/>
<rect x="85.7" y="-3" width="8.8" height="7.6" fill="#eaf4ff" stroke="#1f8fee" stroke-width="2"/>
<path d="M88,1 H92" stroke="#7fbcf5" stroke-width="1"/>
<path d="M85,11.6 a3.2,3.2 0 0 1 -0.3,-6 a3.4,3.4 0 0 1 6.2,-1.2 a3.3,3.3 0 0 1 5,2.2 a2.6,2.6 0 0 1 -0.4,5 Z" fill="#edf2fa" stroke="#6f8fc2" stroke-width="1"/>
<path d="M84.6,10.2 H95.6" stroke="#c9d6ea" stroke-width="1.4"/>
<path d="M118,3.2 L118,11.4 A8.2,8.2 0 0 0 126.2,3.2 A8.2,8.2 0 0 0 124,-2 Z" fill="#7cc47c" opacity="0.75"/>
<circle cx="117.9" cy="3.2" r="3.7" fill="none" stroke="#5b86d6" stroke-width="1"/>
<circle cx="117.9" cy="3.2" r="5.9" fill="none" stroke="#8aa8e2" stroke-width="1"/>
<circle cx="117.9" cy="3.2" r="8" fill="none" stroke="#b4c6ec" stroke-width="1"/>
<path d="M118.2,3.4 V11.6" stroke="#27a327" stroke-width="1.3"/>
<circle cx="117.9" cy="3.2" r="1.7" fill="#2a5fd0"/>
<path d="M137.2,2.6 L152.8,2.6 L152.8,5 L145.4,11.6 L143.6,11.6 L137.2,5 Z" fill="#f4d95e" stroke="#cfa92e" stroke-width="0.7"/>
<path d="M137,-2 H153 V2.6 Q145,4.4 137,2.6 Z" fill="#4e9fdc"/>
<ellipse cx="145" cy="0.6" rx="5" ry="1.6" fill="#a9d4f2"/>
<circle cx="149.4" cy="7.5" r="4.1" fill="#dd2211" stroke="#a81408" stroke-width="0.7"/>
<rect x="148" y="6.1" width="2.9" height="2.9" fill="#fff"/>
<text class="cj" x="158.5" y="7.4">自动交易</text>
<path d="M231.5,0 V12.5 M229,9.5 H243 M241.5,8.4 L243,9.5 L241.5,10.6 M230.3,1.5 L231.5,0 L232.7,1.5" fill="none" stroke="#555" stroke-width="1.1"/>
<path d="M234.5,6.7 H237.3 V0.5 H240" fill="none" stroke="#169316" stroke-width="1.3"/>
<path d="M259.5,0 V12.5 M257,9.5 H271 M269.5,8.4 L271,9.5 L269.5,10.6 M258.3,1.5 L259.5,0 L260.7,1.5" fill="none" stroke="#555" stroke-width="1.1"/>
<rect x="263.5" y="-2" width="4.5" height="8" fill="#2bd42b" stroke="#128a12" stroke-width="1"/><path d="M265.7,6 V8" stroke="#128a12" stroke-width="1"/>
<path d="M287.5,0 V12.5 M285,9.5 H299 M297.5,8.4 L299,9.5 L297.5,10.6 M286.3,1.5 L287.5,0 L288.7,1.5" fill="none" stroke="#555" stroke-width="1.1"/>
<path d="M286,7 Q290.5,0.5 292.5,1.2 T297.8,5" fill="none" stroke="#169316" stroke-width="1.2"/>
<path d="M326.7,5.8 L332.09999999999997,10.6" stroke="#a07c12" stroke-width="3.8" stroke-linecap="round"/>
<path d="M326.7,5.8 L332.09999999999997,10.6" stroke="#f0d640" stroke-width="2.2" stroke-linecap="round"/>
<circle cx="322.9" cy="1.9" r="5.6" fill="#dbeefc" stroke="#3f86d2" stroke-width="1.4"/>
<path d="M319.5,1.9 H326.29999999999995" stroke="#3d86b4" stroke-width="1.9"/>
<path d="M322.9,-2 V5.3" stroke="#3d86b4" stroke-width="1.9"/>
<path d="M354.90000000000003,5.8 L360.3,10.6" stroke="#a07c12" stroke-width="3.8" stroke-linecap="round"/>
<path d="M354.90000000000003,5.8 L360.3,10.6" stroke="#f0d640" stroke-width="2.2" stroke-linecap="round"/>
<circle cx="351.1" cy="1.9" r="5.6" fill="#dbeefc" stroke="#3f86d2" stroke-width="1.4"/>
<path d="M347.70000000000005,1.9 H354.5" stroke="#3d86b4" stroke-width="1.9"/>
<rect x="373" y="-3" width="7.8" height="6.3" rx="0.8" fill="#3aa818"/><rect x="381.2" y="-3" width="7.8" height="6.3" rx="0.8" fill="#2f5fd6"/>
<rect x="373" y="4.1" width="7.8" height="7.6" rx="0.8" fill="#2352d0"/><rect x="381.2" y="4.1" width="7.8" height="7.6" rx="0.8" fill="#3aa818"/>
<rect x="374.2" y="-3" width="5.4" height="5.3" fill="#f2f8ee"/><rect x="382.4" y="-3" width="5.4" height="5.3" fill="#eef2fc"/>
<rect x="374.2" y="7.6" width="5.4" height="3" fill="#f2f5fd"/><rect x="382.4" y="7.6" width="5.4" height="3" fill="#f0f8ec"/>
<path d="M375.2,0.6 H378.6 M383.4,0.6 H386.8 M375.2,8.6 H378.6 M383.4,8.6 H386.8" stroke="#9ab6e8" stroke-width="0.9"/>
<path d="M411.5,0 V12.5 M409,9.5 H423 M421.5,8.4 L423,9.5 L421.5,10.6 M410.3,1.5 L411.5,0 L412.7,1.5" fill="none" stroke="#555" stroke-width="1.1"/>
<path d="M416,-1 L420.4,3.4 L416,7.4 Z" fill="#3bd43b" stroke="#169316" stroke-width="0.9"/>
<path d="M439.5,0 V12.5 M437,9.5 H451 M449.5,8.4 L451,9.5 L449.5,10.6 M438.3,1.5 L439.5,0 L440.7,1.5" fill="none" stroke="#555" stroke-width="1.1"/>
<path d="M445.6,0 V8" stroke="#2f6fb4" stroke-width="1.2"/><path d="M446.5,3.5 H451 M449,1.5 L446.8,3.5 L449,5.5" fill="none" stroke="#d03a10" stroke-width="1.2"/>
<rect x="470.5" y="-3" width="11" height="12.5" fill="#fdfdfd" stroke="#8a8a8a" stroke-width="1"/>
<path d="M478,2.5 h4 v3.5 h3.8 v4 h-3.8 v3.6 h-4 v-3.6 h-3.8 v-4 h3.8 z" fill="#2fd22f" stroke="#0c8a0c" stroke-width="0.9"/>
<polygon points="491.5,3 497.5,3 494.5,6.2" fill="#000"/>
<polygon points="530.5,3 536.5,3 533.5,6.2" fill="#000"/>
<polygon points="569.5,3 575.5,3 572.5,6.2" fill="#000"/>
<polygon points="875.5,3 881.5,3 878.5,6.2" fill="#000"/>
<circle cx="516" cy="3.8" r="6.8" fill="#f4f8fd" stroke="#2c6fd6" stroke-width="2.2"/>
<path d="M516,-0.5 V4 L518.8,5" fill="none" stroke="#444" stroke-width="1"/>
<rect x="547.5" y="-3" width="15" height="13.5" fill="#fff" stroke="#4b83cc" stroke-width="1.2"/>
<path d="M547.5,5 H562.5" stroke="#4b83cc" stroke-width="1"/>
<path d="M549.5,3 L552,2 L554,2.6 L557,1 L559,1.6 L561,0.8" fill="none" stroke="#b02a10" stroke-width="1.1"/>
<path d="M549.5,8.8 L552.5,7.6 L554.5,8.4 L557.5,6.4 L560.8,8.2" fill="none" stroke="#1c9a1c" stroke-width="1.1"/>
<path d="M599.5,-3 L599.5,7.6 L602,5.4 L604.2,10.6 L606.2,9.8 L604,4.8 L607.6,4.6 Z" fill="#444"/>
<path d="M624,4.5 H630 M633,4.5 H639 M631.5,0 V3 M631.5,6 V12" stroke="#555" stroke-width="1.1"/>
<path d="M665.5,0 V10.6" stroke="#555" stroke-width="1.2"/><path d="M688,4.5 H700" stroke="#555" stroke-width="1.2"/><path d="M716,11 L728,-0.2" stroke="#555" stroke-width="1.2"/>
<path d="M742.5,6.4 L751.5,-2 M746,10.4 L756,0.8 M744.6,8.6 l2.6,-6 M746.8,7.6 l2.6,-6 M749,6 l2.6,-6 M751.2,4.6 l2.6,-6" stroke="#444" stroke-width="1.15" fill="none"/>
<text x="752.6" y="12.6" font-size="6.5" font-weight="bold" fill="#444">E</text>
<path d="M771,0.5 H784 M771,4.5 H784 M771,8.5 H779" stroke="#555" stroke-width="1" stroke-dasharray="1 1"/>
<text x="780.6" y="12.6" font-size="6.5" font-weight="bold" fill="#444">F</text>
<text x="801.6" y="8.6" font-size="13" fill="#555" textLength="8.4" lengthAdjust="spacingAndGlyphs">A</text>
<rect x="828.5" y="-3" width="11.5" height="13.5" fill="none" stroke="#555" stroke-width="1" stroke-dasharray="1 1.2"/>
<text x="830.6" y="8.6" font-size="10.5" font-weight="bold" fill="#555" textLength="7.4" lengthAdjust="spacingAndGlyphs">T</text>
<path d="M858,-1 l3,2.4 l-3,2 z M866,5.4 l3.6,2.6 l-3.6,2.6 l-3.4,-2.6 z" fill="#444"/><path d="M856.5,6 l2.4,1.8 l4.8,-5.6" fill="none" stroke="#444" stroke-width="1.2"/>
<text class="tf" x="902.7" y="7.9" textLength="12.5" lengthAdjust="spacingAndGlyphs">M1</text>
<text class="tf" x="930.6" y="7.9" textLength="12.5" lengthAdjust="spacingAndGlyphs">M5</text>
<text class="tf" x="956.5" y="7.9" textLength="17.8" lengthAdjust="spacingAndGlyphs">M15</text>
<text class="tf" x="984.4" y="7.9" textLength="17.8" lengthAdjust="spacingAndGlyphs">M30</text>
<text class="tf" x="1015.7" y="7.9" textLength="11.5" lengthAdjust="spacingAndGlyphs">H1</text>
<text class="tf" x="1042.5" y="7.9" textLength="12.5" lengthAdjust="spacingAndGlyphs">H4</text>
<text class="tf" x="1071.5" y="7.9" textLength="11.5" lengthAdjust="spacingAndGlyphs">D1</text>
<text class="tf" x="1099.4" y="7.9" textLength="13.8" lengthAdjust="spacingAndGlyphs">W1</text>
<text class="tf" x="1125.7" y="7.9" textLength="14.3" lengthAdjust="spacingAndGlyphs">MN</text>
<path d="M1615.2,4.3 L1611.2,8.7" stroke="#1f49b8" stroke-width="2.6" stroke-linecap="round"/>
<circle cx="1618.6" cy="0.3" r="4.3" fill="#f4f6fc" stroke="#2a5ad0" stroke-width="1.5"/>
<path d="M1635.3,5.6 a6,4.8 0 1 1 5,4.8 l-2.2,2.2 l0.2,-2.6 a6,5 0 0 1 -3,-4.4 z" fill="#dddde9" stroke="#b9b9c4" stroke-width="0.8"/>
<circle cx="1649.6" cy="1" r="8.2" fill="#dc351f"/>
<text x="1645.9" y="6.2" font-size="13" font-weight="bold" fill="#fff" style="font-family:'Liberation Serif',serif" textLength="7" lengthAdjust="spacingAndGlyphs">1</text>
</g>
<rect x="0" y="16" width="1663" height="1" fill="#a0a0a0" shape-rendering="crispEdges"/>
</svg></body></html>
